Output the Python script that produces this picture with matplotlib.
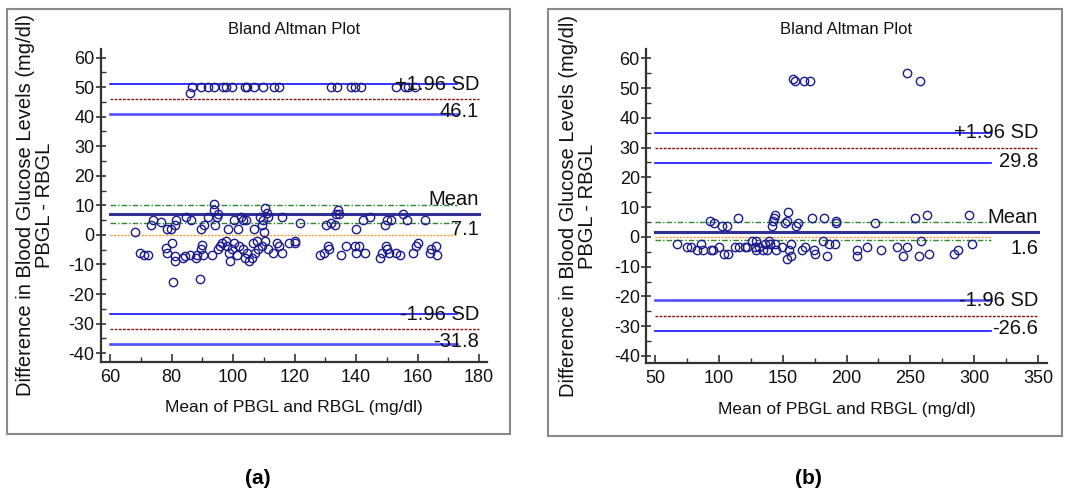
import matplotlib
matplotlib.use("Agg")
import matplotlib.pyplot as plt
from matplotlib.patches import Rectangle
from matplotlib.ticker import MultipleLocator

plt.rcParams["font.family"] = ["Liberation Sans", "DejaVu Sans"]
plt.rcParams["axes.unicode_minus"] = False

# =======================
# Data (a)
# =======================
a_x = [86.0, 86.7, 89.5, 91.9, 93.7, 96.9, 97.8, 99.8, 103.9, 104.6, 106.8, 109.9,
       113.3, 114.9, 131.9, 133.7, 138.5, 139.8, 141.6, 152.9, 155.9, 157.0, 159.2,
       68.1, 69.8, 71.1, 72.2, 73.2, 74.1, 76.6, 78.1, 78.6, 78.6, 79.8, 80.2, 80.6,
       81.1, 81.1, 81.1, 81.5, 83.7, 84.4, 84.7, 86.1, 86.2, 87.9, 88.4, 89.1, 89.5,
       89.6, 90.0, 90.3, 90.6, 91.8, 93.2, 93.7, 93.9, 94.3, 94.7, 95.2, 95.2, 95.8,
       96.4, 97.6, 98.0, 98.5, 98.6, 99.0, 99.6, 100.3, 100.4, 101.4, 101.6, 101.8,
       102.6, 103.1, 103.4, 103.9, 104.2, 104.6, 105.2, 106.1, 106.4, 106.8, 107.2,
       107.7, 108.2, 108.7, 109.3, 109.5, 109.9, 110.2, 110.4, 110.5, 110.9, 111.5,
       111.5, 112.9, 114.2, 114.8, 115.9, 115.9, 118.3, 120.0, 120.2, 121.8, 128.3,
       129.7, 130.3, 130.8, 131.2, 131.9, 133.2, 133.4, 134.0, 134.4, 135.1, 136.8,
       139.7, 139.9, 140.0, 140.9, 142.2, 143.0, 144.6, 147.7, 148.6, 149.3, 149.7,
       150.1, 150.1, 150.8, 151.3, 153.0, 154.3, 155.4, 156.5, 158.6, 159.4, 160.1,
       162.5, 163.9, 164.4, 166.0, 166.2]
a_y = [48, 50, 50, 50, 50, 50, 50, 50, 50, 50, 50, 50,
       50, 50, 50, 50, 50, 50, 50, 50, 50, 50, 50,
       1.1, -6, -6.9, -6.9, 3.3, 5.1, 4.3, -4.5, -6, 2, 2, -2.8, -15.9,
       -8.8, -7, 3.3, 5.1, -7.9, -7, 6.1, -6.9, 5.2, -7.9, -6.9, -14.9, 2,
       -4.8, -3.4, -6.9, 3.2, 6.1, -6.9, 10.3, 8.3, 3.3, 6.1, 7.1, -4.8, -3.9,
       -2.8, -1.9, -3.9, 2, -6, -8.9, -4.8, 5.1, -2.8, -6.9, 1.9, -3.9,
       6.1, 5.1, -4.8, -7.9, 5.1, -6, -8.9, -7.9, -2.8, 2, -6,
       -1.9, -4.8, 6.1, 3.2, -3.9, 5.1, 1.1, 9.2, -1.9, 7.4, 6.1,
       -4.8, -6, -2.8, -3.9, 6.1, -6, -2.8, -1.9, -2.8, 4.2, -6.9,
       -6, 3.3, -3.9, -4.8, 4.2, 3.3, 7.2, 8.3, 7.2, -6.9, -3.9,
       -3.9, 2, -6, -3.9, 5.1, -6, 6.1, -7.9, -6, 3.2, -3.9,
       -4.8, 5.1, -6, 5.1, -6, -6.9, 7.2, 5.1, -6, -3.9, -2.8,
       5.1, -6, -4.8, -3.9, -6.9]

# limits (a): upper CI hi, upper limit, upper CI lo, mean CI hi, mean, mean CI lo,
# lower CI hi, lower limit, lower CI lo
a_levels = [51.0, 46.1, 41.0, 10.2, 7.1, 4.2, -26.8, -31.8, -36.9]
a_labels = ["+1.96 SD", "46.1", "Mean", "7.1", "-1.96 SD", "-31.8"]

# =======================
# Data (b)
# =======================
b_x = [157.7, 159.8, 166.6, 171.6, 247.0, 257.7,
       67.2, 74.8, 78.2, 82.6, 86.0, 87.8, 93.0, 93.8, 95.4, 95.9, 99.8, 102.7,
       104.3, 106.1, 106.9, 112.9, 114.7, 116.0, 120.4, 121.7, 126.2, 128.0, 129.0,
       129.0, 131.1, 134.3, 136.1, 137.9, 139.5, 140.0, 141.6, 142.1, 143.1, 143.9,
       144.2, 144.4, 149.7, 151.7, 153.0, 154.0, 154.6, 153.6, 156.8, 156.5, 160.7,
       161.7, 165.1, 167.4, 172.6, 174.5, 175.3, 181.3, 182.6, 184.7, 186.5, 190.9,
       191.7, 191.9, 208.1, 208.4, 216.2, 222.2, 226.9, 239.7, 244.4, 247.0, 253.8,
       256.6, 258.7, 263.1, 264.7, 284.3, 287.2, 295.8, 298.1]
b_y = [53.1, 52.2, 52.2, 52.2, 55.1, 52.2,
       -2.5, -3.5, -3.5, -4.5, -2.5, -4.5, 5.5, -4.5, -4.5, 4.5, -3.5, 3.5,
       -5.7, 3.5, -5.7, -3.5, 6.5, -3.5, -3.5, -3.5, -1.5, -3.5, -1.5,
       -4.5, -3.5, -4.5, -2.5, -4.5, -1.5, -2.5, 3.5, 5.5, 6.5, 7.5,
       -2.5, -4.5, -3.5, 4.5, 5.5, 8.4, -4.5, -7.4, -2.5, -6.5, 3.5,
       4.5, -4.5, -3.5, 6.5, -4.5, -5.7, -1.5, 6.5, -6.5, -2.5, -2.5,
       5.5, 4.5, -4.5, -6.5, -3.5, 4.5, -4.5, -3.5, -6.5, -3.5, 6.5,
       -6.5, -1.5, 7.5, -5.7, -5.7, -4.5, 7.5, -2.5]

b_levels = [35.0, 29.8, 24.7, 4.9, 1.6, -1.2, -21.3, -26.6, -31.5]
b_labels = ["+1.96 SD", "29.8", "Mean", "1.6", "-1.96 SD", "-26.6"]

TITLE = "Bland Altman Plot"
XLABEL = "Mean of PBGL and RBGL (mg/dl)"
YLABEL = "Difference in Blood Glucose Levels (mg/dl)\nPBGL - RBGL"

NAVY = "#1c1c8e"
BLUE = "#1010ff"
LIGHTBLUE = "#5050ff"
RED = "#8b1010"
GREEN = "#2a8a2a"
ORANGE = "#ff9933"
TXT = "#111111"


def draw_panel(ax, xs, ys, levels, labels, x0, x1, xend, xlim, ylim, xstep, thick_ci, title_x):
    ci_hi, lim_hi, ci_lo, m_hi, mean, m_lo, lci_hi, lim_lo, lci_lo = levels

    # CI of limits (blue), CI of mean (green), line of equality (orange)
    for lv, key in [(ci_hi, "u1"), (ci_lo, "u2"), (lci_hi, "l1"), (lci_lo, "l2")]:
        if key in thick_ci:
            ax.plot([x0, xend], [lv, lv], color=LIGHTBLUE, lw=1.9, zorder=2)
        else:
            ax.plot([x0, xend], [lv, lv], color=BLUE, lw=1.2, zorder=2)
    for lv in [m_hi, m_lo]:
        ax.plot([x0, xend], [lv, lv], color=GREEN, lw=1.0, ls=(0, (4, 1.5, 1, 1.5)), zorder=2)
    ax.plot([x0, xend], [0, 0], color=ORANGE, lw=1.0, ls=(0, (1.5, 1)), zorder=2)

    # limits of agreement (red dotted) and mean (navy)
    for lv in [lim_hi, lim_lo]:
        ax.plot([x0, x1], [lv, lv], color=RED, lw=1.0, ls=(0, (2, 1)), zorder=2)
    ax.plot([x0, x1], [mean, mean], color="#303096", lw=2.2, zorder=2)

    ax.plot(xs, ys, "o", mfc="none", mec=NAVY, ms=6, mew=1.0, zorder=3)

    # labels at right
    pos = [ci_hi, ci_lo + 0.6, mean + 4.8, mean - 5.4, lci_hi, lci_lo + 0.8]
    for txt, yv in zip(labels, pos):
        ax.text(x1, yv, txt, ha="right", va="center", fontsize=14.5, color=TXT, zorder=4)

    ax.set_xlim(*xlim)
    ax.set_ylim(*ylim)
    for s in ["top", "right"]:
        ax.spines[s].set_visible(False)
    for s in ["left", "bottom"]:
        ax.spines[s].set_linewidth(1.6)
        ax.spines[s].set_color("#333333")

    ax.set_xticks(range(x0, x1 + 1, xstep))
    ax.set_yticks(range(-40, 61, 10))
    ax.xaxis.set_minor_locator(MultipleLocator(xstep / 2))
    ax.yaxis.set_minor_locator(MultipleLocator(5))
    ax.tick_params(axis="x", which="major", direction="in", length=6, width=1.2, pad=5,
                   labelsize=13, colors="#333333", labelcolor=TXT)
    ax.tick_params(axis="x", which="minor", direction="in", length=3.5, width=1.0, colors="#333333")
    ax.tick_params(axis="y", which="major", direction="inout", length=7, width=1.2, pad=1,
                   labelsize=13, colors="#333333", labelcolor=TXT)
    ax.tick_params(axis="y", which="minor", direction="in", length=3.5, width=1.0, colors="#333333")

    fig = ax.figure
    fig.text(title_x / 1068, 1 - 30 / 493, TITLE, ha="center", va="center",
             fontsize=12, color=TXT)
    ax.text(0.5, -0.148, XLABEL, transform=ax.transAxes, ha="center", va="center",
            fontsize=12.5, color=TXT)
    ax.text(-0.17, 0.5, YLABEL, transform=ax.transAxes, ha="center", va="center",
            rotation=90, fontsize=14.5, linespacing=1.0, color=TXT)


fig = plt.figure(figsize=(10.68, 4.93), dpi=100)

ax1 = fig.add_axes([0.0943, 0.2663, 0.3617, 0.6343])
draw_panel(ax1, a_x, a_y, a_levels, a_labels, 60, 180, 172.7,
           (56.97, 182.6), (-42.9, 62.9), 20, {"u2", "l2"}, 294)

ax2 = fig.add_axes([0.6049, 0.2631, 0.3752, 0.6369])
draw_panel(ax2, b_x, b_y, b_levels, b_labels, 50, 350, 313.5,
           (42.95, 356.8), (-42.45, 63.0), 50, {"l1"}, 846)

# panel frames
fig.add_artist(Rectangle((7 / 1068, 59 / 493), 503 / 1068, 425 / 493, transform=fig.transFigure,
                         fill=False, edgecolor="#8a8a8a", lw=1.5))
fig.add_artist(Rectangle((548 / 1068, 57 / 493), 514 / 1068, 427 / 493, transform=fig.transFigure,
                         fill=False, edgecolor="#8a8a8a", lw=1.5))

fig.text(258 / 1068, 1 - 478 / 493, "(a)", ha="center", va="center", fontsize=15, fontweight="bold")
fig.text(808 / 1068, 1 - 478 / 493, "(b)", ha="center", va="center", fontsize=15, fontweight="bold")

plt.savefig("out.png", dpi=100)
